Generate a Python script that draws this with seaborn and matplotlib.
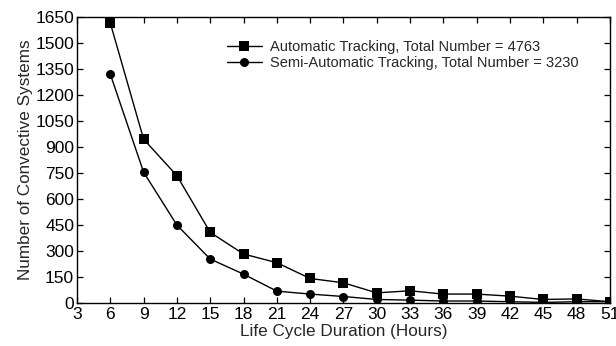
import matplotlib
matplotlib.use("Agg")
import matplotlib.pyplot as plt
import seaborn as sns
import pandas as pd

hours = [6, 9, 12, 15, 18, 21, 24, 27, 30, 33, 36, 39, 42, 45, 48, 51]
automatic = [1615, 945, 735, 408, 283, 233, 142, 117, 59, 71, 52, 52, 40, 21, 24, 8]
semi_automatic = [1320, 755, 450, 254, 167, 69, 52, 38, 21, 17, 12, 12, 8, 4, 8, 8]
label_auto = "Automatic Tracking, Total Number = 4763"
label_semi = "Semi-Automatic Tracking, Total Number = 3230"
x_ticks = list(range(3, 52, 3))
y_ticks = list(range(0, 1651, 150))

sns.set_style("ticks")
plt.rcParams["font.family"] = ["Liberation Sans", "DejaVu Sans"]

df = pd.concat([
    pd.DataFrame({"hours": hours, "count": automatic, "series": label_auto}),
    pd.DataFrame({"hours": hours, "count": semi_automatic, "series": label_semi}),
])

fig = plt.figure(figsize=(6.16, 3.46), dpi=100)
ax = fig.add_axes([0.125, 0.124, 0.865, 0.827])

sns.lineplot(data=df, x="hours", y="count", hue="series", style="series",
             palette=["black", "black"], markers=["s", "o"], dashes=False,
             markersize=6.5, markeredgewidth=0, linewidth=1.0, ax=ax)

ax.set_xlim(3, 51)
ax.set_ylim(0, 1650)
ax.set_xticks(x_ticks)
ax.set_yticks(y_ticks)
ax.tick_params(direction="in", top=True, right=True, length=4, width=0.9,
               labelsize=12.5, colors="black", pad=2)
ax.tick_params(axis="x", pad=3)
ax.tick_params(axis="y", labelright=False)
for s in ax.spines.values():
    s.set_visible(True)
    s.set_linewidth(1.0)
    s.set_color("black")
ax.set_xlabel("Life Cycle Duration (Hours)", fontsize=12.3, labelpad=1)
ax.set_ylabel("Number of Convective Systems", fontsize=12.3, labelpad=2)

leg = ax.legend(loc="upper left", bbox_to_anchor=(0.27, 0.94), frameon=False,
                fontsize=10.5, handlelength=2.4, handletextpad=0.6,
                labelspacing=0.12, borderaxespad=0)

fig.savefig("out.png", dpi=100)
